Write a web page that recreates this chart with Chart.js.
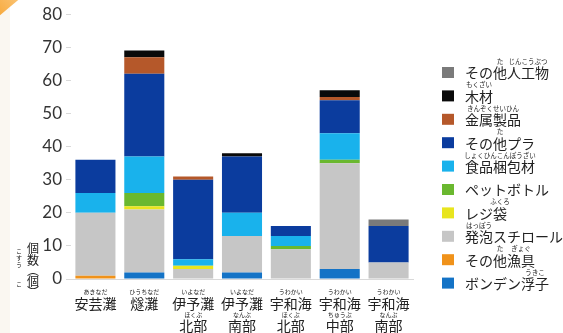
<!DOCTYPE html>
<html><head><meta charset="utf-8">
<script src="https://cdn.jsdelivr.net/npm/chart.js@4.4.0/dist/chart.umd.min.js"></script>
<style>
html,body{margin:0;padding:0;background:#fff;}
#wrap{position:relative;width:563px;height:333px;overflow:hidden;background:#fff;}
#corner{position:absolute;left:-12px;top:-12px;width:34px;height:20px;background:linear-gradient(90deg,#f7a93c,#fbc980);transform:rotate(-40deg);transform-origin:center;}
#strip{position:absolute;left:0;top:0;width:10px;height:333px;background:#faf7f1;}
canvas{position:absolute;left:0;top:0;}
</style></head><body>
<div id="wrap"><div id="strip"></div><div id="corner"></div><canvas id="c" width="563" height="333"></canvas></div>
<script>
// ---- data ----
const categories = [['安芸灘'], ['燧灘'], ['伊予灘','北部'], ['伊予灘','南部'], ['宇和海','北部'], ['宇和海','中部'], ['宇和海','南部']];
const categoryRuby = [['あきなだ'], ['ひうちなだ'], ['いよなだ','ほくぶ'], ['いよなだ','なんぶ'], ['うわかい','ほくぶ'], ['うわかい','ちゅうぶ'], ['うわかい','なんぶ']];
const yTicks = [0,10,20,30,40,50,60,70,80];

// series, stacked bottom -> top
const seriesNames = ['ボンデン浮子','その他漁具','発泡スチロール','レジ袋','ペットボトル','食品梱包材','その他プラ','金属製品','木材','その他人工物'];
const seriesRuby = [
  [['浮子','うきこ']],
  [['他','た'],['漁具','ぎょぐ']],
  [['発泡','はっぽう']],
  [['袋','ふくろ']],
  [],
  [['食品梱包材','しょくひんこんぽうざい']],
  [['他','た']],
  [['金属製品','きんぞくせいひん']],
  [['木材','もくざい']],
  [['他','た'],['人工物','じんこうぶつ']]
];
const bondenUki   = [0, 2, 0, 2, 0, 3, 0];
const otherGear   = [1, 0, 0, 0, 0, 0, 0];
const styrofoam   = [19,19, 3,11, 9,32, 5];
const plasticBag  = [0, 1, 1, 0, 0, 0, 0];
const petBottle   = [0, 4, 0, 0, 1, 1, 0];
const foodPack    = [6,11, 2, 7, 3, 8, 0];
const otherPlastic= [10,25,24,17, 3,10,11];
const metal       = [0, 5, 1, 0, 0, 1, 0];
const wood        = [0, 2, 0, 1, 0, 2, 0];
const otherArt    = [0, 0, 0, 0, 0, 0, 2];
const seriesValues = [bondenUki, otherGear, styrofoam, plasticBag, petBottle, foodPack, otherPlastic, metal, wood, otherArt];
const seriesColors = ['#1473c6','#f0921a','#c6c6c6','#e8e51e','#6ab82f','#19b2ec','#0b3c9e','#b5582a','#0a0a0a','#7a7a7a'];

const yTitle = ['個','数','︵','個','︶'];
const yTitleRuby = [['こ','す','う'], ['こ']];

const JP = '"Noto Sans CJK JP", "Noto Sans", sans-serif';
const TICK_PAD = 5.5, LH = 1.6, XFONT = 14;

const rubyPlugin = {
  id: 'rubyDecor',
  afterDraw(chart) {
    const ctx = chart.ctx;
    const xs = chart.scales.x;
    ctx.save();
    ctx.fillStyle = '#222';
    ctx.textAlign = 'center';
    ctx.textBaseline = 'middle';
    // x label furigana, placed from the axis' own label layout
    ctx.font = '6px ' + JP;
    const lh = XFONT * LH;
    const items = xs.getLabelItems();
    categoryRuby.forEach((lines, i) => {
      const it = items[i];
      const x = it.options.translation[0];
      const y1 = it.options.translation[1] + it.textOffset;
      lines.forEach((r, j) => ctx.fillText(r, x, y1 + lh * j - 11.5));
    });
    // legend (top -> bottom = reverse stack)
    const lx = 442, tx = 465, y0 = 72.5, dy = 23.4;
    for (let k = 0; k < seriesNames.length; k++) {
      const idx = seriesNames.length - 1 - k;
      const yc = y0 + dy * k;
      ctx.fillStyle = seriesColors[idx];
      ctx.fillRect(lx, yc - 5.5, 12, 11);
      ctx.fillStyle = '#222';
      ctx.textAlign = 'left';
      ctx.font = '14px ' + JP;
      const name = seriesNames[idx];
      ctx.fillText(name, tx, yc + 0.5);
      seriesRuby[idx].forEach(([base, rb]) => {
        ctx.font = '14px ' + JP;
        const p = name.indexOf(base);
        const pre = ctx.measureText(name.slice(0, p)).width;
        const bw = ctx.measureText(base).width;
        ctx.font = '6.5px ' + JP;
        ctx.textAlign = 'center';
        ctx.fillText(rb, tx + pre + bw / 2, yc - 11);
        ctx.textAlign = 'left';
      });
    }
    // vertical y title
    ctx.textAlign = 'center';
    ctx.font = '12px ' + JP;
    const ty = [248, 260, 270, 281, 292];
    yTitle.forEach((ch, i) => ctx.fillText(ch, 33, ty[i]));
    ctx.font = '6px ' + JP;
    const ry = [[251, 258, 265], [284]];
    yTitleRuby.forEach((grp, g) => grp.forEach((ch, i) => ctx.fillText(ch, 19, ry[g][i])));
    ctx.restore();
  }
};

new Chart(document.getElementById('c'), {
  type: 'bar',
  data: {
    labels: categories,
    datasets: seriesNames.map((n, i) => ({
      label: n,
      data: seriesValues[i],
      backgroundColor: seriesColors[i],
      borderWidth: 0,
      barPercentage: 0.82,
      categoryPercentage: 1.0,
      stack: 's'
    }))
  },
  options: {
    responsive: false,
    devicePixelRatio: 1,
    animation: false,
    layout: { padding: { top: 14, right: 150, bottom: 0, left: 0 } },
    plugins: { legend: { display: false }, tooltip: { enabled: false } },
    scales: {
      x: {
        stacked: true,
        grid: { display: false },
        border: { display: true, color: '#d9d9d9', width: 1 },
        ticks: { color: '#222', font: { family: JP, size: XFONT, lineHeight: LH }, padding: TICK_PAD, maxRotation: 0, autoSkip: false },
        afterFit(s) { s.height = 54; }
      },
      y: {
        stacked: true,
        min: 0, max: 80,
        afterBuildTicks(s) { s.ticks = yTicks.map(v => ({ value: v })); },
        grid: { display: true, drawOnChartArea: false, drawTicks: true, tickLength: 5, color: '#d9d9d9' },
        border: { display: false },
        ticks: { color: '#333', font: { family: 'Lato', size: 17 }, padding: 4 },
        afterFit(s) { s.width = 71; }
      }
    }
  },
  plugins: [rubyPlugin]
});
</script>
</body></html>
